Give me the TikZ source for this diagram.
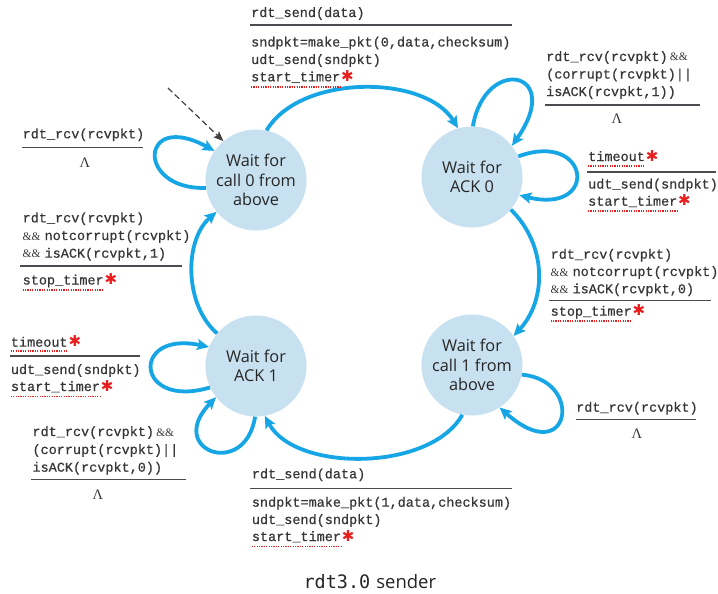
\documentclass[tikz,border=0pt]{standalone}
\usepackage{fontspec}
\setmainfont{Open Sans}
\newfontfamily\codefont{Liberation Mono}[FakeBold=0.6]
\newfontfamily\symfont{DejaVu Sans}
\newfontfamily\lamfont{Liberation Serif}
\newfontfamily\capmono{DejaVu Sans Mono}
\usetikzlibrary{arrows.meta}

\definecolor{flow}{RGB}{22,166,230}
\definecolor{statefill}{RGB}{200,225,240}
\definecolor{ink}{RGB}{55,55,55}
\definecolor{rulegray}{RGB}{75,75,82}
\definecolor{mark}{RGB}{232,30,30}

% narrow ampersands used in the guards
\newcommand{\andand}{{\lamfont\fontsize{11.5}{11.5}\selectfont\&\&}}

\tikzset{
  state/.style={circle, fill=statefill, minimum size=101pt, inner sep=0pt,
    align=center, text=black!85, font=\fontsize{16.3}{19.5}\selectfont},
  code/.style={anchor=base west, inner sep=0pt, text=ink,
    font=\codefont\fontsize{13.5}{17}\selectfont},
  ast/.style={anchor=base west, inner sep=0pt, xshift=0.5pt, text=mark,
    font=\symfont\fontsize{15}{15}\selectfont},
  lam/.style={inner sep=0pt, text=ink, font=\lamfont\fontsize{14.5}{14.5}\selectfont},
  rulel/.style={draw=rulegray, line width=1.4pt},
  redline/.style={draw=mark, line width=1.5pt, dash pattern=on 1.2pt off 1.2pt},
  flowarrow/.style={draw=flow, line width=3.8pt,
    -{Stealth[length=12pt,width=11pt,inset=2.5pt]}},
  initarrow/.style={draw=black!75, line width=1.2pt, dash pattern=on 6pt off 3.5pt,
    -{Stealth[length=10pt,width=8pt,inset=2pt]}},
}

\begin{document}
\begin{tikzpicture}[x=1pt,y=-1pt]
\useasboundingbox (0,0) rectangle (718,594);
\fill[white] (0,0) rectangle (718,594);

% states
\node[state] (c0) at (256,180) {Wait for\\call 0 from\\above};
\node[state] (a0) at (472,177) {Wait for\\ACK 0};
\node[state] (a1) at (256,366) {Wait for\\ACK 1};
\node[state] (c1) at (472,365) {Wait for\\call 1 from\\above};

% initial transition
\coordinate (init) at (168,88);
\draw[initarrow] (init) -- (c0.130);

% transitions between states
\draw[flowarrow] (c0.78) .. controls (300,74) and (425,74) .. (a0.106);
\draw[flowarrow] (a0.-40) .. controls (547,245) and (547,300) .. (c1.35);
\draw[flowarrow] (c1.-101) .. controls (430,472) and (295,472) .. (a1.-80);
\draw[flowarrow] (a1.140) .. controls (184,305) and (184,240) .. (c0.-141);

% self loops
\draw[flowarrow] (c0.189) .. controls (135,190) and (140,110) .. (c0.145);
\draw[flowarrow] (a0.89) .. controls (485,55) and (565,70) .. (a0.38);
\draw[flowarrow] (a0.24) .. controls (590,130) and (600,215) .. (a0.-21);
\draw[flowarrow] (c1.-11) .. controls (585,380) and (570,470) .. (c1.-57);
\draw[flowarrow] (a1.205) .. controls (135,410) and (130,330) .. (a1.158);
\draw[flowarrow] (a1.-91) .. controls (245,480) and (165,450) .. (a1.218);

% wait for call 0 -> wait for ACK 0
\node[code] (t1a) at (251,17) {rdt\_send(data)};
\draw[rulel] (250,25) -- (512,25);
\node[code] (t1b) at (251,46.5) {sndpkt=make\_pkt(0,data,checksum)};
\node[code] (t1c) at (251,64) {udt\_send(sndpkt)};
\node[code] (t1d) at (251,81.3) {start\_timer};
\node[ast] (t1s) at (t1d.base east) {✱};
\draw[redline] ([yshift=-5.5pt]t1d.base west) -- ([yshift=-5.5pt]t1d.base east);

% ACK 0 top loop
\node[code] (t2a) at (546,61) {rdt\_rcv(rcvpkt)\,\andand};
\node[code] (t2b) at (546,78.5) {(corrupt(rcvpkt)||};
\node[code] (t2c) at (546,96) {isACK(rcvpkt,1))};
\draw[rulel] (545,105) -- (700,105);
\node[lam] (t2l) at (617,119) {Λ};

% ACK 0 timeout loop
\node[code] (t3a) at (588,161) {timeout};
\node[ast] (t3s) at (t3a.base east) {✱};
\draw[redline] ([yshift=-5pt]t3a.base west) -- ([yshift=-5pt]t3a.base east);
\draw[rulel] (587,172) -- (716,172);
\node[code] (t3b) at (588,188.5) {udt\_send(sndpkt)};
\node[code] (t3c) at (588,205.7) {start\_timer};
\node[ast] (t3t) at (t3c.base east) {✱};
\draw[redline] ([yshift=-5.5pt]t3c.base west) -- ([yshift=-5.5pt]t3c.base east);

% wait for call 0 loop
\node[code] (t4a) at (22.5,138.3) {rdt\_rcv(rcvpkt)};
\draw[rulel] (22,147.7) -- (143,147.7);
\node[lam] (t4l) at (85,162.7) {Λ};

% ACK 1 -> wait for call 0
\node[code] (t5a) at (22.5,222.3) {rdt\_rcv(rcvpkt)};
\node[code] (t5b) at (22.5,240) {\andand\hspace{4pt}notcorrupt(rcvpkt)};
\node[code] (t5c) at (22.5,257.7) {\andand\hspace{4pt}isACK(rcvpkt,1)};
\draw[rulel] (20,266) -- (182,266);
\node[code] (t5d) at (22.5,284.5) {stop\_timer};
\node[ast] (t5s) at (t5d.base east) {✱};
\draw[redline] ([yshift=-5.5pt]t5d.base west) -- ([yshift=-5.5pt]t5d.base east);

% ACK 0 -> wait for call 1
\node[code] (t6a) at (550.5,258.7) {rdt\_rcv(rcvpkt)};
\node[code] (t6b) at (550.5,276) {\andand\hspace{4pt}notcorrupt(rcvpkt)};
\node[code] (t6c) at (550.5,293.3) {\andand\hspace{4pt}isACK(rcvpkt,0)};
\draw[rulel] (549,300.7) -- (711,300.7);
\node[code] (t6d) at (550.5,315.7) {stop\_timer};
\node[ast] (t6s) at (t6d.base east) {✱};
\draw[redline] ([yshift=-5.5pt]t6d.base west) -- ([yshift=-5.5pt]t6d.base east);

% ACK 1 timeout loop
\node[code] (t7a) at (10.7,346.7) {timeout};
\node[ast] (t7s) at (t7a.base east) {✱};
\draw[redline] ([yshift=-4.5pt]t7a.base west) -- ([yshift=-4.5pt]t7a.base east);
\draw[rulel] (10,356) -- (140,356);
\node[code] (t7b) at (10.7,374) {udt\_send(sndpkt)};
\node[code] (t7c) at (10.7,391) {start\_timer};
\node[ast] (t7t) at (t7c.base east) {✱};
\draw[redline] ([yshift=-5.5pt]t7c.base west) -- ([yshift=-5.5pt]t7c.base east);

% ACK 1 lower loop
\node[code] (t8a) at (32.3,436) {rdt\_rcv(rcvpkt)\,\andand};
\node[code] (t8b) at (32.3,454) {(corrupt(rcvpkt)||};
\node[code] (t8c) at (32.3,471.7) {isACK(rcvpkt,0))};
\draw[rulel] (31,479.3) -- (186,479.3);
\node[lam] (t8l) at (98,495) {Λ};

% wait for call 1 loop
\node[code] (t9a) at (576,411.7) {rdt\_rcv(rcvpkt)};
\draw[rulel] (576,419.3) -- (696,419.3);
\node[lam] (t9l) at (637,433.3) {Λ};

% wait for call 1 -> ACK 1
\node[code] (t10a) at (251.7,478.3) {rdt\_send(data)};
\draw[rulel] (250,488.3) -- (512,488.3);
\node[code] (t10b) at (251.7,506.7) {sndpkt=make\_pkt(1,data,checksum)};
\node[code] (t10c) at (251.7,524) {udt\_send(sndpkt)};
\node[code] (t10d) at (251.7,541) {start\_timer};
\node[ast] (t10s) at (t10d.base east) {✱};
\draw[redline] ([yshift=-5.5pt]t10d.base west) -- ([yshift=-5.5pt]t10d.base east);

% caption
\node[anchor=base west, inner sep=0pt, text=black!85, font=\fontsize{18.5}{18.5}\selectfont]
  (cap) at (303.3,588.3) {{\capmono rdt3.0}\hspace{6pt}sender};
\end{tikzpicture}
\end{document}
